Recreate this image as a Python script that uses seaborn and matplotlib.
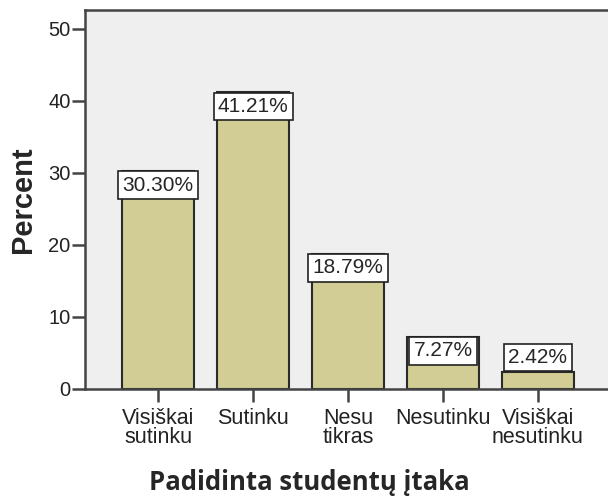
import matplotlib
matplotlib.use('Agg')
import matplotlib.pyplot as plt
import seaborn as sns

categories = ['Visiškai\nsutinku', 'Sutinku', 'Nesu\ntikras', 'Nesutinku', 'Visiškai\nnesutinku']
percent = [30.30, 41.21, 18.79, 7.27, 2.42]
labels = ['30.30%', '41.21%', '18.79%', '7.27%', '2.42%']
yticks = [0, 10, 20, 30, 40, 50]

sns.set_style('white')
plt.rcParams['font.family'] = ['Liberation Sans', 'DejaVu Sans']

fig = plt.figure(figsize=(6.08, 5.03), dpi=100)
ax = fig.add_axes([85 / 608, 114 / 503, 526 / 608, 379 / 503])
ax.set_facecolor('#efefef')

sns.barplot(x=categories, y=percent, color='#d2cd95', saturation=1,
            edgecolor='#2b2b2b', linewidth=1.5, width=0.76, ax=ax)

ax.set_xlim(-0.77, 4.77)
ax.set_ylim(0, 52.6)
ax.set_yticks(yticks)

# label boxes at the top of each bar (above the bar when it is too short)
box = dict(boxstyle='square,pad=0.2', fc='white', ec='#222222', lw=1.2)
for i, (v, lab) in enumerate(zip(percent, labels)):
    if v > 5:
        ax.annotate(lab, xy=(i, v), xytext=(0, -3.5), textcoords='offset points',
                    ha='center', va='top', fontsize=15, bbox=box)
    else:
        ax.annotate(lab, xy=(i, v), xytext=(0, 3.5), textcoords='offset points',
                    ha='center', va='bottom', fontsize=15, bbox=box)

for side in ['left', 'bottom', 'top']:
    ax.spines[side].set_color('#444444')
    ax.spines[side].set_linewidth(1.8)
ax.spines['right'].set_visible(False)

ax.tick_params(axis='both', direction='out', length=9.5, width=1.8, color='#444444',
               labelcolor='#222222', left=True, bottom=True)
ax.tick_params(axis='y', pad=1, labelsize=14.5)
ax.tick_params(axis='x', pad=4, labelsize=15.5)
for t in ax.get_xticklabels():
    t.set_linespacing(0.9)

ax.set_ylabel('Percent', fontsize=21, fontweight='bold', labelpad=8)
ax.set_xlabel('Padidinta studentų įtaka', fontsize=18.5, fontweight='bold',
              family=['Open Sans', 'DejaVu Sans'])
ax.xaxis.set_label_coords(0.426, -0.21)

fig.savefig('out.png', dpi=100)
